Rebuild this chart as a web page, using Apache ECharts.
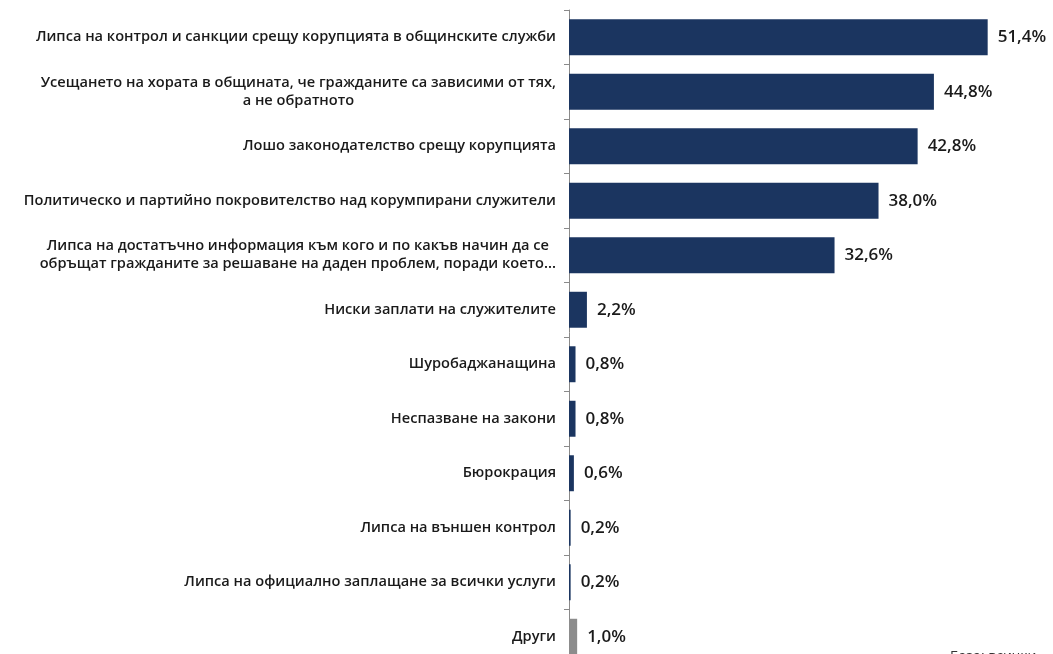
<!DOCTYPE html>
<html><head><meta charset="utf-8">
<script src="https://cdn.jsdelivr.net/npm/echarts@6/dist/echarts.min.js"></script>
<style>html,body{margin:0;padding:0;background:#fff}#c{width:1053px;height:654px}</style>
</head><body><div id="c"></div>
<script>
var categories = [
  "Липса на контрол и санкции срещу корупцията в общинските служби",
  "Усещането на хората в общината, че гражданите са зависими от тях,\nа не обратното",
  "Лошо законодателство срещу корупцията",
  "Политическо и партийно покровителство над корумпирани служители",
  "Липса на достатъчно информация към кого и по какъв начин да се\nобръщат гражданите за решаване на даден проблем, поради което...",
  "Ниски заплати на служителите",
  "Шуробаджанащина",
  "Неспазване на закони",
  "Бюрокрация",
  "Липса на външен контрол",
  "Липса на официално заплащане за всички услуги",
  "Други"
];
var values = [51.4, 44.8, 42.8, 38.0, 32.6, 2.2, 0.8, 0.8, 0.6, 0.2, 0.2, 1.0];
var barColors = ["#1b3560","#1b3560","#1b3560","#1b3560","#1b3560","#1b3560","#1b3560","#1b3560","#1b3560","#1b3560","#1b3560","#8c8c8c"];

var chart = echarts.init(document.getElementById('c'));
chart.setOption({
  animation: false,
  grid: {left: 569, top: 10, width: 448, height: 654, containLabel: false, outerBoundsMode: 'none'},
  xAxis: {type: 'value', min: 0, max: 55, show: false},
  yAxis: {
    type: 'category', inverse: true, data: categories,
    axisLine: {show: true, lineStyle: {color: '#8a8a8a', width: 1}},
    axisTick: {show: true, length: 5, lineStyle: {color: '#8a8a8a'}},
    axisLabel: {
      margin: 13, color: '#1a1a1a', fontFamily: 'Open Sans', fontWeight: 600, fontSize: 14.6,
      align: 'right', lineHeight: 18,
      formatter: function (v) {
        return v.split('\n').map(function (l) { return '{c|' + l + '}'; }).join('\n');
      },
      rich: {c: {align: 'center', fontFamily: 'Open Sans', fontWeight: 600, fontSize: 14.6, color: '#1a1a1a', lineHeight: 18}}
    }
  },
  series: [{
    type: 'bar',
    data: values.map(function (v, i) { return {value: v, itemStyle: {color: barColors[i]}}; }),
    barCategoryGap: '34%',
    label: {
      show: true, position: 'right', distance: 10,
      color: '#1a1a1a', fontFamily: 'Open Sans', fontWeight: 600, fontSize: 17,
      formatter: function (p) { return p.value.toFixed(1).replace('.', ',') + '%'; }
    }
  }],
  graphic: [{
    type: 'text', left: 950, top: 650,
    style: {text: 'База: всички', fontFamily: 'Open Sans', fontSize: 14, fill: '#333'}
  }]
});
</script></body></html>
